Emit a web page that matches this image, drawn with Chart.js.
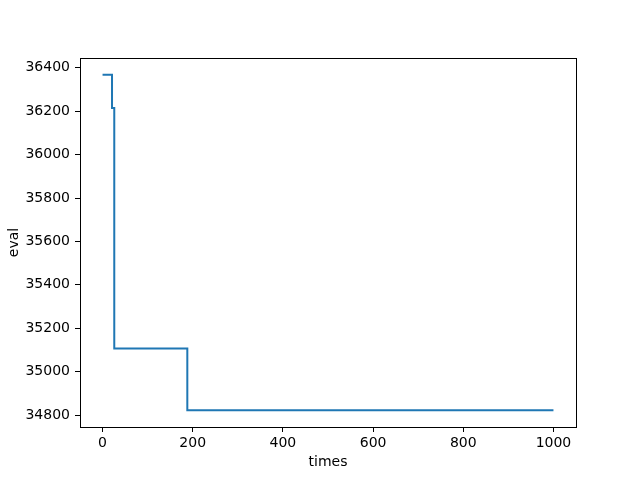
<!DOCTYPE html>
<html>
<head>
<meta charset="utf-8">
<script src="https://cdn.jsdelivr.net/npm/chart.js@4/dist/chart.umd.min.js"></script>
<style>
    body { margin: 0; background: #fff; }
</style>
</head>
<body>
<canvas id="eval_chart" width="640" height="480"></canvas>
<script>
// change points of the step line (value holds until next point)
let times = [0, 21, 26, 188, 1000]
let evals = [36368, 36215, 35107, 34822, 34822]
let xTicks = [0, 200, 400, 600, 800, 1000]
let yTicks = [34800, 35000, 35200, 35400, 35600, 35800, 36000, 36200, 36400]

let points = []
for (let i = 0; i < times.length; i++) {
    points.push({ x: times[i], y: evals[i] })
}

// draw the box round the plot like matplotlib spines
let frame = {
    id: 'frame',
    afterDraw: function (chart) {
        let a = chart.chartArea
        let ctx = chart.ctx
        ctx.save()
        ctx.strokeStyle = '#000'
        ctx.lineWidth = 1
        ctx.strokeRect(Math.round(a.left) + 0.5, Math.round(a.top) + 0.5,
            Math.round(a.right - a.left), Math.round(a.bottom - a.top))
        ctx.restore()
    }
}

let font = { family: 'DejaVu Sans', size: 14 }
Chart.defaults.color = '#000'

let ctx = document.getElementById('eval_chart')
let evalChart = new Chart(ctx, {
    type: 'line',
    plugins: [frame],
    data: {
        datasets: [{
            label: 'eval',
            data: points,
            stepped: 'before',
            borderColor: '#1f77b4',
            borderWidth: 2,
            pointRadius: 0,
            fill: false
        }]
    },
    options: {
        responsive: false,
        animation: false,
        devicePixelRatio: 1,
        layout: { padding: { left: 0, top: 58, right: 64, bottom: 0 } },
        plugins: { legend: { display: false }, tooltip: { enabled: false } },
        scales: {
            x: {
                type: 'linear',
                min: -50,
                max: 1050,
                afterBuildTicks: function (s) { s.ticks = xTicks.map(v => ({ value: v })) },
                afterFit: function (s) { s.height = 53 },
                grid: { drawOnChartArea: false, drawTicks: true, tickLength: 5, color: '#000' },
                border: { display: false },
                ticks: { font: font, padding: 3, maxRotation: 0, callback: v => String(v) },
                title: { display: true, text: 'times', font: font, padding: { bottom: 9 } }
            },
            y: {
                type: 'linear',
                min: 34745,
                max: 36445,
                afterBuildTicks: function (s) { s.ticks = yTicks.map(v => ({ value: v })) },
                afterFit: function (s) { s.width = 80 },
                grid: { drawOnChartArea: false, drawTicks: true, tickLength: 5, color: '#000' },
                border: { display: false },
                ticks: { font: font, padding: 5, callback: v => String(v) },
                title: { display: true, text: 'eval', font: font, padding: { top: 6 } }
            }
        }
    }
})
</script>
</body>
</html>
